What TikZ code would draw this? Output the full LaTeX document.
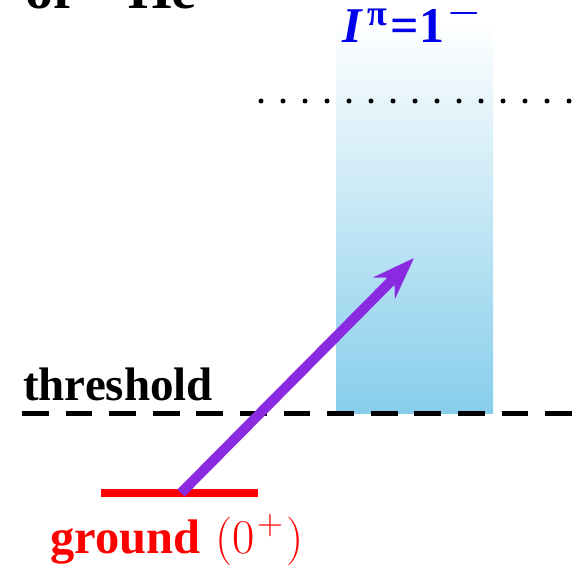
\documentclass[tikz,border=0pt]{standalone}
\usepackage{fontspec}
\setmainfont{Liberation Serif}
\newfontfamily\lmfont{Latin Modern Roman}
\usetikzlibrary{arrows.meta}
\definecolor{skyb}{RGB}{135,206,235}
\definecolor{violetarrow}{RGB}{138,43,226}
\definecolor{levelblue}{RGB}{0,0,235}
\begin{document}
\begin{tikzpicture}[x=1pt,y=-1pt,
  lbl/.style={inner sep=0pt,anchor=base west,font=\fontsize{47}{50}\selectfont\bfseries},
  ttl/.style={inner sep=0pt,font=\fontsize{56}{60}\selectfont\bfseries},
  thr/.style={line width=5pt,dash pattern=on 26.7pt off 16.9pt},
  dots/.style={line width=5pt,line cap=round,dash pattern=on 0pt off 22pt},
  lev/.style={line width=8pt,red},
  trans/.style={line width=10pt,violetarrow,-{Stealth[length=42pt,width=30pt,inset=14pt]}}]
\useasboundingbox (0,0) rectangle (577,567);
% title (cut off at top)
\node[ttl,anchor=base west] (t1) at (25,9) {of};
\node[ttl,anchor=base east] (t2) at (197,9) {\raisebox{14pt}{\textsuperscript{6}}He};
% continuum band
\shade[top color=white,bottom color=skyb] (336,22) rectangle (493,413);
\node[inner sep=0pt,anchor=base west,text=levelblue,font=\fontsize{50}{54}\selectfont\bfseries] (ip) at (342,43)
  {\textit{I}\hspace{4pt}\raisebox{17pt}{\fontsize{36}{38}\selectfont π}\hspace{4pt}=1\hspace{4pt}\raisebox{20pt}{\fontsize{36}{38}\selectfont\lmfont −}};
% dotted line
\coordinate (d1) at (261,101);
\coordinate (d2) at (575,101);
\draw[dots] (d1) -- (d2);
% threshold
\coordinate (th1) at (22,413);
\coordinate (th2) at (580,413);
\draw[thr] (th1) -- (th2);
\node[lbl] (thl) at (23,400) {threshold};
% ground state
\coordinate (g1) at (101,493);
\coordinate (g2) at (258,493);
\draw[lev] (g1) -- (g2);
\node[lbl,text=red,font=\fontsize{48.5}{52}\selectfont\bfseries] (gl) at (50,553)
  {ground\hspace{3pt} {\lmfont\mdseries(0\hspace{3pt}\raisebox{19pt}{\fontsize{36}{38}\selectfont +}\hspace{3pt})}};
% transition arrow
\coordinate (gs) at (181,493);
\coordinate (ex) at (414,258);
\draw[trans] (gs) -- (ex);
\end{tikzpicture}
\end{document}
